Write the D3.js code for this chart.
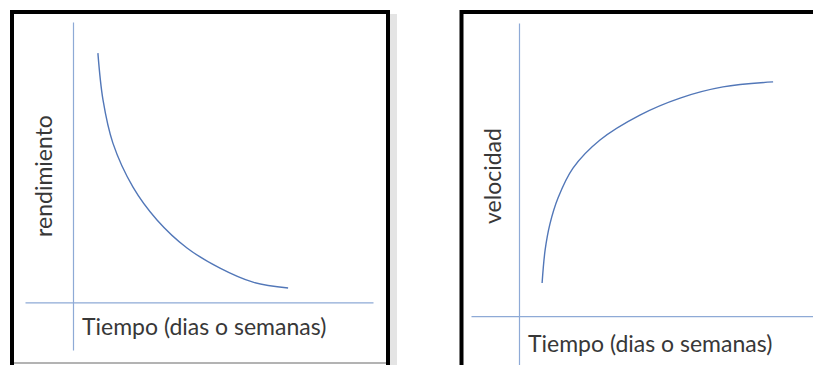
<!DOCTYPE html>
<html>
<head>
<meta charset="utf-8">
<script src="https://cdn.jsdelivr.net/npm/d3@7"></script>
<style>
  html, body { margin: 0; padding: 0; background: #fff; }
  svg { display: block; }
  text { font-family: Lato, "Open Sans", sans-serif; fill: #383838; }
</style>
</head>
<body>
<svg id="chart" width="813" height="365"></svg>
<script>
// ---- data ----
const xLabel = "Tiempo (dias o semanas)";
const leftYLabel = "rendimiento";
const rightYLabel = "velocidad";

// left panel: rendimiento decreasing over time
const leftTime  = [0.83, 1.0, 1.33, 2.0, 2.8, 3.8, 4.9, 6.0, 7.17];
const leftValue = [8.89, 7.22, 5.68, 4.11, 2.94, 1.94, 1.22, 0.72, 0.51];

// right panel: velocidad increasing over time
const rightTime  = [0.77, 0.87, 1.03, 1.3, 1.8, 2.7, 4.03, 5.37, 6.8, 8.47];
const rightValue = [1.13, 2.25, 3.14, 4.03, 5.05, 6.01, 6.86, 7.44, 7.82, 7.99];

// axis extents (data units)
const leftXDomain = [-1.6, 10];
const leftYDomain = [-1.7, 10];
const rightXDomain = [-1.6, 9.8];
const rightYDomain = [-1.7, 10];

const svg = d3.select("#chart");
const axisColor = "#8eaad6";
const lineColor = "#5277b8";

// ---- panel frames ----
svg.append("rect").attr("x", 389).attr("y", 14).attr("width", 8).attr("height", 351)
  .attr("fill", "#d8d8d8").attr("opacity", 0.7);
svg.append("rect").attr("x", 12).attr("y", 12).attr("width", 376).attr("height", 360)
  .attr("fill", "#fff").attr("stroke", "#000").attr("stroke-width", 4);
svg.append("line").attr("x1", 14).attr("x2", 386).attr("y1", 363).attr("y2", 363)
  .attr("stroke", "#9a9a9a").attr("stroke-width", 1.5);

svg.append("rect").attr("x", 461.5).attr("y", 12).attr("width", 400).attr("height", 400)
  .attr("fill", "#fff").attr("stroke", "#000").attr("stroke-width", 4);

function panel(xDomain, xRange, yDomain, yRange, times, values, yLabel, yLabelPos, xLabelPos) {
  const x = d3.scaleLinear().domain(xDomain).range(xRange);
  const y = d3.scaleLinear().domain(yDomain).range(yRange);
  const g = svg.append("g");

  const xAxis = d3.axisBottom(x).tickValues([]).tickSizeOuter(0);
  const yAxis = d3.axisLeft(y).tickValues([]).tickSizeOuter(0);
  g.append("g").attr("transform", `translate(0,${y(0)})`).call(xAxis)
    .call(s => s.select(".domain").attr("stroke", axisColor).attr("stroke-width", 1.2));
  g.append("g").attr("transform", `translate(${x(0)},0)`).call(yAxis)
    .call(s => s.select(".domain").attr("stroke", axisColor).attr("stroke-width", 1.2));

  const pts = times.map((t, i) => [t, values[i]]);
  const line = d3.line().x(d => x(d[0])).y(d => y(d[1])).curve(d3.curveCatmullRom.alpha(0.5));
  g.append("path").attr("d", line(pts)).attr("fill", "none")
    .attr("stroke", lineColor).attr("stroke-width", 1.4);

  g.append("text").attr("x", xLabelPos[0]).attr("y", xLabelPos[1])
    .attr("font-size", 23).text(xLabel);

  g.append("text").attr("transform", `translate(${yLabelPos[0]},${yLabelPos[1]}) rotate(-90)`)
    .attr("text-anchor", "middle").attr("font-size", 23).text(yLabel);
}

panel(leftXDomain, [25, 373], leftYDomain, [350, 22], leftTime, leftValue,
      leftYLabel, [52, 176], [82, 335]);
panel(rightXDomain, [471, 813], rightYDomain, [366, 23], rightTime, rightValue,
      rightYLabel, [501, 176], [528, 352]);
</script>
</body>
</html>
